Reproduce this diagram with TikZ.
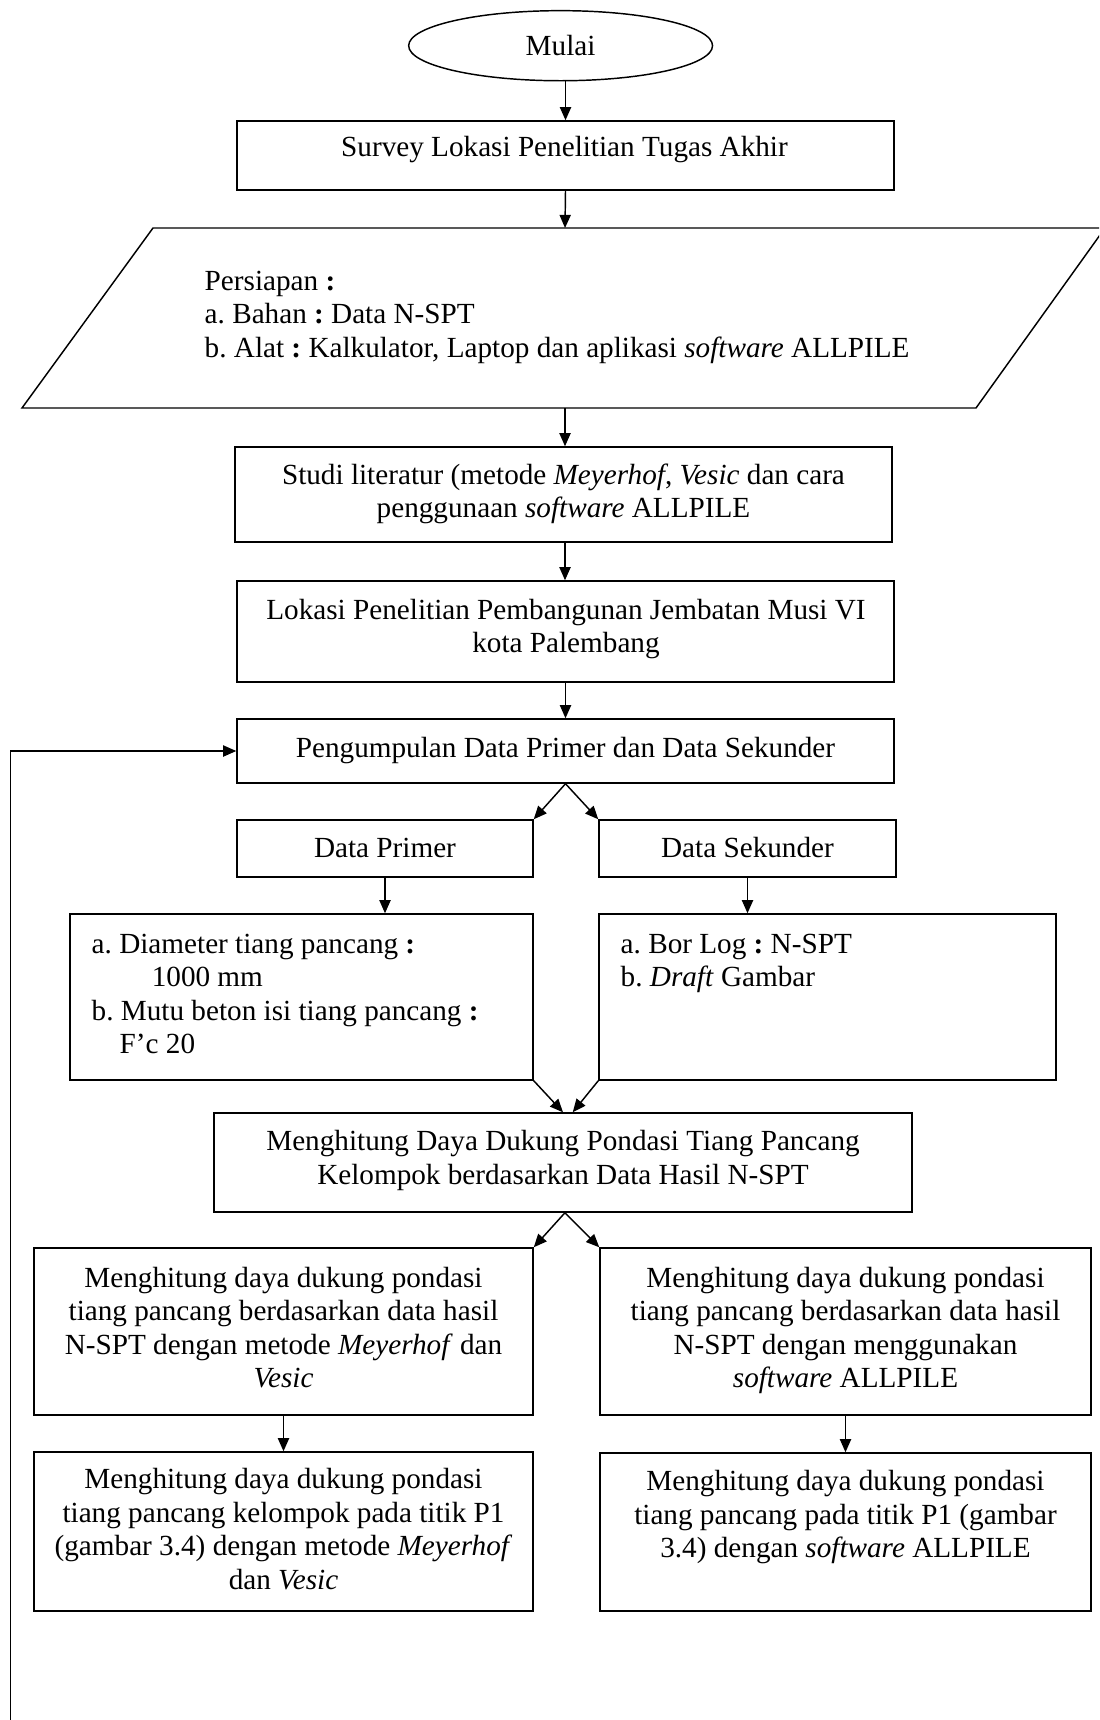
\documentclass[tikz,border=0pt]{standalone}
\usepackage{fontspec}
\setmainfont{Liberation Serif}
\usetikzlibrary{arrows.meta,fit,shapes.geometric}
\newcommand\flowfont{\fontsize{12}{13.8}\selectfont\frenchspacing}
\begin{document}
\begin{tikzpicture}[x=0.411pt,y=-0.411pt,
  line width=0.6pt,
  box/.style={draw, rectangle, inner sep=0pt},
  txt/.style={inner sep=0pt, font=\flowfont},
  arr/.style={-{Triangle[length=5.4pt,width=4.6pt]}}]
\useasboundingbox (0,0) rectangle (1099,1720);
\clip (0,0) rectangle (1099,1720);

% start
\node[draw, ellipse, minimum width=124.9pt, minimum height=28.8pt, inner sep=0pt, font=\flowfont] (mulai) at (560.6,45.7) {Mulai};

% survey
\node[box, fit={(237,121) (894,190)}] (surv) {};
\node[txt, anchor=base] (survt) at (564.5,157) {Survey Lokasi Penelitian Tugas Akhir};

% parallelogram
\coordinate (parT) at (565,228);
\coordinate (parB) at (565,408);
\draw (153,228) -- (1105,228) -- (976,408) -- (22,408) -- cycle;
\node[txt, anchor=north west, align=left] (prept) at (204,265.8) {\strut Persiapan \textbf{:}\\a. Bahan \textbf{:} Data N-SPT\\b. Alat \textbf{:} Kalkulator, Laptop dan aplikasi \textit{software} ALLPILE};

% studi
\node[box, fit={(235,447) (892,542)}] (studi) {};
\node[txt, anchor=north, align=center] (studit) at (563.5,460) {\strut Studi literatur (metode \textit{Meyerhof}, \textit{Vesic} dan cara\\penggunaan \textit{software} ALLPILE};

% lokasi
\node[box, fit={(237,581) (894,682)}] (lok) {};
\node[txt, anchor=north, align=center] (lokt) at (566,595) {\strut Lokasi Penelitian Pembangunan Jembatan Musi VI\\kota Palembang};

% pengumpulan
\node[box, fit={(237,719) (894,783)}] (peng) {};
\node[txt, anchor=base] (pengt) at (565.5,757.3) {Pengumpulan Data Primer dan Data Sekunder};

% data primer / sekunder
\node[box, fit={(237,820) (533,877)}] (prim) {};
\node[txt, anchor=base] (primt) at (385,857.3) {Data Primer};
\node[box, fit={(599,820) (896,877)}] (sek) {};
\node[txt, anchor=base] (sekt) at (747.5,857.3) {Data Sekunder};

% details
\node[box, fit={(70,914) (533,1080)}] (detL) {};
\node[txt, anchor=north west, align=left] (detLt) at (91,929) {\strut a. Diameter tiang pancang \textbf{:}\\\hspace*{24.7pt}1000 mm\\b. Mutu beton isi tiang pancang \textbf{:}\\\hspace*{11.5pt}F’c 20};
\node[box, fit={(599,914) (1056,1080)}] (detR) {};
\node[txt, anchor=north west, align=left] (detRt) at (620,929) {\strut a. Bor Log \textbf{:} N-SPT\\b. \textit{Draft} Gambar};

% menghitung
\node[box, fit={(214,1113) (912,1212)}] (meng) {};
\node[txt, anchor=north, align=center] (mengt) at (563,1126.5) {\strut Menghitung Daya Dukung Pondasi Tiang Pancang\\Kelompok berdasarkan Data Hasil N-SPT};

% lower boxes
\node[box, fit={(34,1248) (533,1415)}] (L1) {};
\node[txt, anchor=north, align=center] (L1t) at (283.5,1262.8) {\strut Menghitung daya dukung pondasi\\tiang pancang berdasarkan data hasil\\N-SPT dengan metode \textit{Meyerhof} dan\\\textit{Vesic}};
\node[box, fit={(600,1248) (1091,1415)}] (R1) {};
\node[txt, anchor=north, align=center] (R1t) at (845.5,1262.8) {\strut Menghitung daya dukung pondasi\\tiang pancang berdasarkan data hasil\\N-SPT dengan menggunakan\\\textit{software} ALLPILE};
\node[box, fit={(34,1452) (533,1611)}] (L2) {};
\node[txt, anchor=north, align=center] (L2t) at (283.5,1464.5) {\strut Menghitung daya dukung pondasi\\tiang pancang kelompok pada titik P1\\(gambar 3.4) dengan metode \textit{Meyerhof}\\dan \textit{Vesic}};
\node[box, fit={(600,1453) (1091,1611)}] (R2) {};
\node[txt, anchor=north, align=center] (R2t) at (845.5,1466.5) {\strut Menghitung daya dukung pondasi\\tiang pancang pada titik P1 (gambar\\3.4) dengan \textit{software} ALLPILE};

% connectors
\draw[arr] (surv.north |- mulai.south) -- (surv.north);
\draw[arr] (surv.south) -- (parT);
\draw[arr] (parB) -- (parB |- studi.north);
\draw[arr] (parB |- studi.south) -- (parB |- lok.north);
\draw[arr] (lok.south) -- (peng.north);
\draw[arr] (peng.south) -- (prim.north east);
\draw[arr] (peng.south) -- (sek.north west);
\draw[arr] (prim.south) -- (prim.south |- detL.north);
\draw[arr] (sek.south) -- (sek.south |- detR.north);
\draw[arr] (detL.south east) -- (meng.north);
\draw[arr] (detR.south west) -- ([xshift=4pt]meng.north);
\draw[arr] ([xshift=0.8pt]meng.south) -- (L1.north east);
\draw[arr] ([xshift=0.8pt]meng.south) -- (R1.north west);
\draw[arr] (L1.south) -- (L2.north);
\draw[arr] (R1.south) -- (R2.north);
\coordinate (fb) at (10.5,1720);
\draw[arr] (fb) |- (peng.west);
\end{tikzpicture}
\end{document}
